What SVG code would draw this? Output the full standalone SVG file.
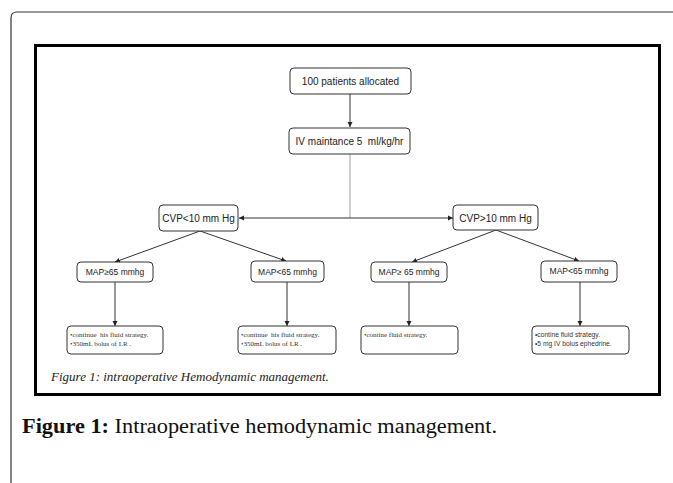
<svg xmlns="http://www.w3.org/2000/svg" width="673" height="483" viewBox="0 0 673 483">
<defs>
<marker id="ah" markerWidth="6" markerHeight="6" refX="5" refY="3" orient="auto" markerUnits="userSpaceOnUse">
<path d="M0,0.5 L5,3 L0,5.5 Z" fill="#222"/>
</marker>
<marker id="ahs" markerWidth="6" markerHeight="6" refX="1" refY="3" orient="auto" markerUnits="userSpaceOnUse">
<path d="M6,0.5 L1,3 L6,5.5 Z" fill="#222"/>
</marker>
</defs>
<style>
.n{fill:#fff;stroke:#333;stroke-width:1}
.t{font-family:"Liberation Sans",Arial,sans-serif;font-size:10px;fill:#222;text-anchor:middle}
.s{font-family:"Liberation Serif","Times New Roman",serif;font-size:7px;fill:#333}
.ss{font-family:"Liberation Sans",Arial,sans-serif;font-size:6.7px;fill:#333}
.c{stroke:#333;stroke-width:1;fill:none}
</style>
<rect width="673" height="483" fill="#fff"/>
<path d="M11,483 V18 Q11,12 17,12 H673" fill="none" stroke="#333" stroke-width="1.2"/>
<rect x="35.5" y="45.5" width="624" height="349" fill="none" stroke="#000" stroke-width="3"/>
<g id="connectors">
<line class="c" x1="350" y1="94" x2="350" y2="127" marker-end="url(#ah)"/>
<line x1="350" y1="154" x2="350" y2="218" stroke="#888" stroke-width="0.8"/>
<line class="c" x1="239" y1="218" x2="453" y2="218" marker-start="url(#ahs)" marker-end="url(#ah)"/>
<line class="c" x1="200" y1="231" x2="115" y2="262" marker-end="url(#ah)"/>
<line class="c" x1="200" y1="231" x2="286" y2="261" marker-end="url(#ah)"/>
<line class="c" x1="496" y1="230" x2="412" y2="262" marker-end="url(#ah)"/>
<line class="c" x1="496" y1="230" x2="579" y2="261" marker-end="url(#ah)"/>
<line class="c" x1="115" y1="282" x2="115" y2="326" marker-end="url(#ah)"/>
<line class="c" x1="287" y1="282" x2="287" y2="326" marker-end="url(#ah)"/>
<line class="c" x1="409" y1="282" x2="409" y2="326" marker-end="url(#ah)"/>
<line class="c" x1="580" y1="282" x2="580" y2="326" marker-end="url(#ah)"/>
</g>
<g id="n1"><rect class="n" x="290" y="68" width="121" height="26" rx="4"/><text class="t" x="350.5" y="85">100 patients allocated</text></g>
<g id="n2"><rect class="n" x="289" y="128" width="121" height="26" rx="4"/><text class="t" x="349.5" y="145" xml:space="preserve">IV maintance 5  ml/kg/hr</text></g>
<g id="n3"><rect class="n" x="159" y="205" width="79" height="26" rx="4"/><text class="t" x="198.5" y="222">CVP&lt;10 mm Hg</text></g>
<g id="n4"><rect class="n" x="453" y="205" width="85" height="25" rx="4"/><text class="t" x="495.5" y="221.5">CVP&gt;10 mm Hg</text></g>
<g id="n5"><rect class="n" x="77" y="262" width="76" height="20" rx="4"/><text class="t" x="115" y="275" style="font-size:8.5px">MAP≥65 mmhg</text></g>
<g id="n6"><rect class="n" x="251" y="261" width="73" height="21" rx="4"/><text class="t" x="287.5" y="274.5" style="font-size:8.5px">MAP&lt;65 mmhg</text></g>
<g id="n7"><rect class="n" x="371" y="262" width="76" height="20" rx="4"/><text class="t" x="409" y="275" style="font-size:8.5px">MAP≥ 65 mmhg</text></g>
<g id="n8"><rect class="n" x="541" y="261" width="76" height="21" rx="4"/><text class="t" x="579" y="274" style="font-size:8.5px">MAP&lt;65 mmhg</text></g>
<g id="n9"><rect class="n" x="67" y="326" width="96" height="28" rx="4"/><text class="s" x="70" y="337" xml:space="preserve">•continue  his fluid strategy.</text><text class="s" x="70" y="345.5">•350mL bolus of LR .</text></g>
<g id="n10"><rect class="n" x="238" y="326" width="98" height="28" rx="4"/><text class="s" x="241" y="337" xml:space="preserve">•continue  his fluid strategy.</text><text class="s" x="241" y="345.5">•350mL bolus of LR .</text></g>
<g id="n11"><rect class="n" x="361" y="326" width="97" height="28" rx="4"/><text class="s" x="364" y="337">•contine fluid strategy.</text></g>
<g id="n12"><rect class="n" x="532" y="326" width="97" height="28" rx="4"/><text class="ss" x="535" y="337">•contine fluid strategy.</text><text class="ss" x="535" y="345.5">•5 mg IV bolus ephedrine.</text></g>
<text x="51" y="381" style="font-family:'Liberation Serif','Times New Roman',serif;font-style:italic;font-size:13px;fill:#222">Figure 1: intraoperative Hemodynamic management.</text>
<text x="22" y="433" textLength="475" lengthAdjust="spacingAndGlyphs" style="font-family:'Liberation Serif','Times New Roman',serif;font-size:20.5px;fill:#111"><tspan font-weight="bold">Figure 1:</tspan> Intraoperative hemodynamic management.</text>
</svg>
